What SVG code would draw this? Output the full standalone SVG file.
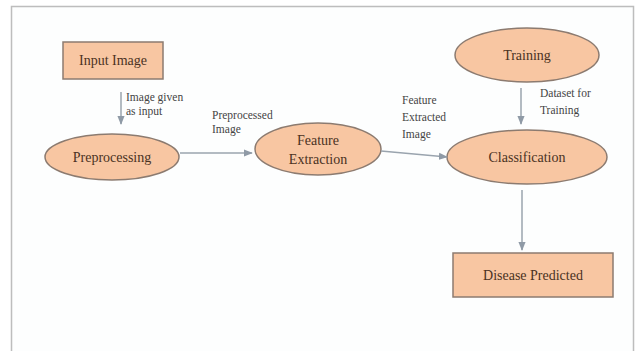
<svg xmlns="http://www.w3.org/2000/svg" width="637" height="351" viewBox="0 0 637 351">
<defs>
<marker id="ah" viewBox="0 0 10 10" refX="9" refY="5" markerWidth="6" markerHeight="6" orient="auto">
<path d="M0,1 L10,5 L0,9 z" fill="#8f9aa6"/>
</marker>
<style>
.node{fill:#f8c6a2;stroke:#8c7b70;stroke-width:1.5}
.nt{font-size:14px;fill:#4a3222;text-anchor:middle}
.lb{font-size:11.5px;fill:#444}
.conn{stroke:#9aa4ae;stroke-width:1.5;fill:none;marker-end:url(#ah)}
</style>
</defs>
<rect x="0" y="0" width="637" height="351" fill="#fff"/>
<rect x="11.5" y="6.5" width="622" height="350" fill="#fdfefe" stroke="#bdbdbd" stroke-width="1.5"/>
<g font-family="Liberation Serif, serif">
<g id="input-image">
<rect class="node" x="63" y="42" width="100" height="37"/>
<text class="nt" x="113" y="65">Input Image</text>
</g>
<g id="preprocessing">
<ellipse class="node" cx="112" cy="157" rx="67" ry="23"/>
<text class="nt" x="112" y="162">Preprocessing</text>
</g>
<g id="feature-extraction">
<ellipse class="node" cx="318" cy="149" rx="63" ry="26"/>
<text class="nt" x="318" y="145">Feature</text>
<text class="nt" x="318" y="164">Extraction</text>
</g>
<g id="training">
<ellipse class="node" cx="527" cy="55" rx="72" ry="27"/>
<text class="nt" x="527" y="60">Training</text>
</g>
<g id="classification">
<ellipse class="node" cx="527" cy="157" rx="80" ry="27"/>
<text class="nt" x="527" y="162">Classification</text>
</g>
<g id="disease-predicted">
<rect class="node" x="453" y="253" width="160" height="44"/>
<text class="nt" x="533" y="280">Disease Predicted</text>
</g>
<g id="connectors">
<line class="conn" x1="121" y1="92" x2="121" y2="124"/>
<line class="conn" x1="180" y1="153" x2="252" y2="153"/>
<line class="conn" x1="381" y1="151" x2="447" y2="157"/>
<line class="conn" x1="521" y1="88" x2="521" y2="124"/>
<line class="conn" x1="522" y1="190" x2="522" y2="250"/>
<text class="lb" x="126" y="101">Image given</text>
<text class="lb" x="126" y="115">as input</text>
<text class="lb" x="212" y="119">Preprocessed</text>
<text class="lb" x="212" y="133">Image</text>
<text class="lb" x="402" y="104">Feature</text>
<text class="lb" x="402" y="121">Extracted</text>
<text class="lb" x="402" y="138">Image</text>
<text class="lb" x="540" y="97">Dataset for</text>
<text class="lb" x="540" y="114">Training</text>
</g>
</g>
</svg>
